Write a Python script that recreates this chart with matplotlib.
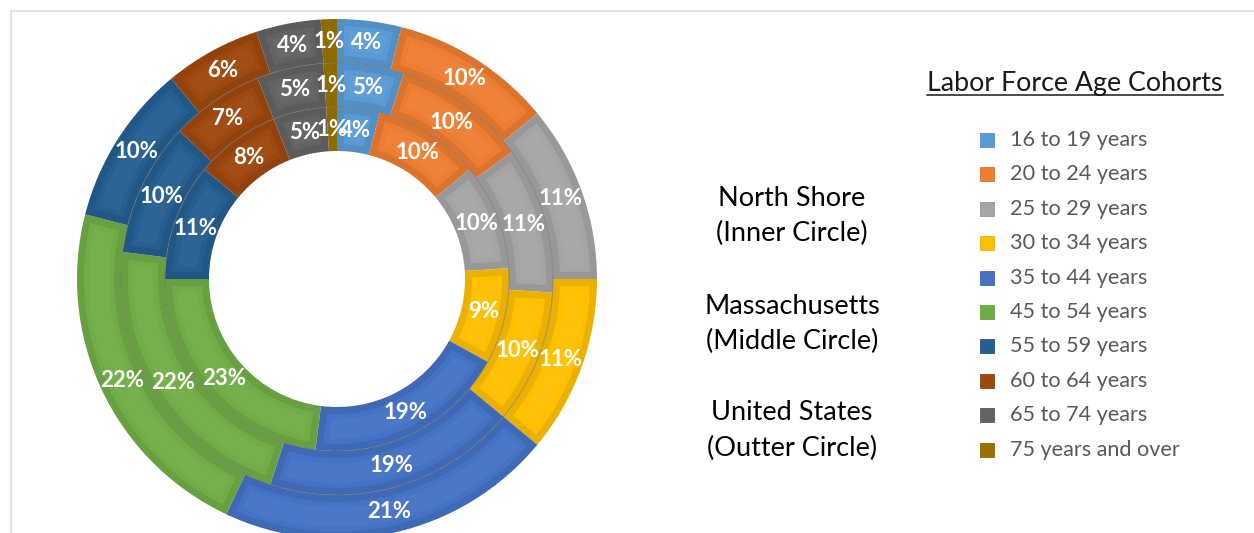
import numpy as np
import matplotlib
matplotlib.use("Agg")
import matplotlib.pyplot as plt
from matplotlib.patches import Polygon, Circle, Rectangle
from matplotlib.lines import Line2D
from matplotlib.colors import to_rgb

# ---------------- data ----------------
cohorts = ["16 to 19 years", "20 to 24 years", "25 to 29 years", "30 to 34 years",
           "35 to 44 years", "45 to 54 years", "55 to 59 years", "60 to 64 years",
           "65 to 74 years", "75 years and over"]
north_shore = [4, 10, 10, 9, 19, 23, 11, 8, 5, 1]      # inner circle
massachusetts = [5, 10, 11, 10, 19, 22, 10, 7, 5, 1]   # middle circle
united_states = [4, 10, 11, 11, 21, 22, 10, 6, 4, 1]   # outer circle
colors = ['#5B9BD5', '#ED7D31', '#A5A5A5', '#FFC000', '#4472C4',
          '#70AD47', '#255E91', '#9E480E', '#636363', '#997300']
ring_labels = [("North Shore", "(Inner Circle)"), ("Massachusetts", "(Middle Circle)"),
               ("United States", "(Outter Circle)")]
legend_title = "Labor Force Age Cohorts"

# ---------------- figure ----------------
W, H = 1254, 533
fig = plt.figure(figsize=(W / 100, H / 100), dpi=100)
FONT = ['Lato', 'DejaVu Sans']

# pixel geometry
cx, cy = 337, 279          # centre (pixels from top-left)
ax_l, ax_r, ax_t, ax_b = 12, 597, 11, 533
ax = fig.add_axes([ax_l / W, 1 - ax_b / H, (ax_r - ax_l) / W, (ax_b - ax_t) / H])

R_out = 260
ring_w = 44
datasets = [(north_shore, R_out - 2 * ring_w), (massachusetts, R_out - ring_w), (united_states, R_out)]


def shade(c, f):
    r, g, b = to_rgb(c)
    return (r * f, g * f, b * f)


def lighten(c, f):
    r, g, b = to_rgb(c)
    return (r + (1 - r) * f, g + (1 - g) * f, b + (1 - b) * f)


def inset_poly(t1, t2, r_in, r_out, d, n=60):
    ro, ri = r_out - d, r_in + d
    if ri >= ro:
        return None
    a_o1 = t1 + np.degrees(np.arcsin(d / ro)); a_o2 = t2 - np.degrees(np.arcsin(d / ro))
    a_i1 = t1 + np.degrees(np.arcsin(d / ri)); a_i2 = t2 - np.degrees(np.arcsin(d / ri))
    if a_o2 <= a_o1 or a_i2 <= a_i1:
        return None
    ao = np.radians(np.linspace(a_o1, a_o2, n))
    ai = np.radians(np.linspace(a_i2, a_i1, n))
    pts = np.concatenate([np.c_[ro * np.cos(ao), ro * np.sin(ao)],
                          np.c_[ri * np.cos(ai), ri * np.sin(ai)]])
    return pts


for vals, R in datasets:
    wedges, _ = ax.pie(vals, radius=R, startangle=90, counterclock=False,
                       colors=[shade(c, 0.92) for c in colors],
                       wedgeprops=dict(width=ring_w, linewidth=0, edgecolor='none'))
    for w, v, c in zip(wedges, vals, colors):
        t1, t2 = w.theta1, w.theta2
        p1 = inset_poly(t1, t2, R - ring_w, R, 7)
        if p1 is not None:
            ax.add_patch(Polygon(p1, closed=True, facecolor=c, edgecolor='none'))
        p2 = inset_poly(t1, t2, R - ring_w, R, 12)
        if p2 is not None:
            ax.add_patch(Polygon(p2, closed=True, facecolor=lighten(c, 0.035), edgecolor='none'))
        if v <= 1:
            w.set_facecolor(shade(c, 0.93))
        mid = np.radians((t1 + t2) / 2)
        rm = R - ring_w / 2
        ax.text(rm * np.cos(mid), rm * np.sin(mid), f"{v}%", ha='center', va='center',
                color='white', fontsize=16, fontweight='bold', family=FONT)

for r in (R_out - ring_w, R_out - 2 * ring_w):
    ax.add_patch(Circle((0, 0), r, fill=False, edgecolor='#6f6f6f', linewidth=0.7, alpha=0.6))

ax.set_aspect('auto')
ax.set_xlim(ax_l - cx, ax_r - cx)
ax.set_ylim(cy - ax_b, cy - ax_t)
ax.axis('off')

# ---------------- ring descriptions ----------------
for (l1, l2), yc in zip(ring_labels, [198, 306, 413]):
    fig.text(792 / W, 1 - yc / H, l1, ha='center', va='center', fontsize=19.5,
             family=FONT, color='black')
    fig.text(792 / W, 1 - (yc + 35) / H, l2, ha='center', va='center', fontsize=19.5,
             family=FONT, color='black')

# ---------------- legend ----------------
t = fig.text(1075 / W, 1 - 84 / H, legend_title, ha='center', va='center',
             fontsize=19.3, family=FONT, color='#1a1a1a')
fig.canvas.draw()
bb = t.get_window_extent(fig.canvas.get_renderer())
uy = (bb.y0 + 1) / H
fig.add_artist(Line2D([bb.x0 / W, bb.x1 / W], [uy, uy], transform=fig.transFigure,
                      color='#1a1a1a', linewidth=1.1))

row_y = [140 + i * 34.4 for i in range(len(cohorts))]
for lbl, c, yy in zip(cohorts, colors, row_y):
    fig.add_artist(Rectangle((980 / W, 1 - (yy + 7) / H), 14 / W, 14 / H,
                             transform=fig.transFigure, facecolor=c,
                             edgecolor=shade(c, 0.9), linewidth=0.6))
    fig.text(1010 / W, 1 - yy / H, lbl, ha='left', va='center', fontsize=15.6,
             family=FONT, color='#595959')

# ---------------- chart frame ----------------
fig.add_artist(Line2D([11 / W, 1], [1 - 10.5 / H, 1 - 10.5 / H], transform=fig.transFigure,
                      color='#d9d9d9', linewidth=1.1))
fig.add_artist(Line2D([11 / W, 11 / W], [0, 1 - 10.5 / H], transform=fig.transFigure,
                      color='#d9d9d9', linewidth=1.1))

fig.savefig("out.png", dpi=100, facecolor='white')
